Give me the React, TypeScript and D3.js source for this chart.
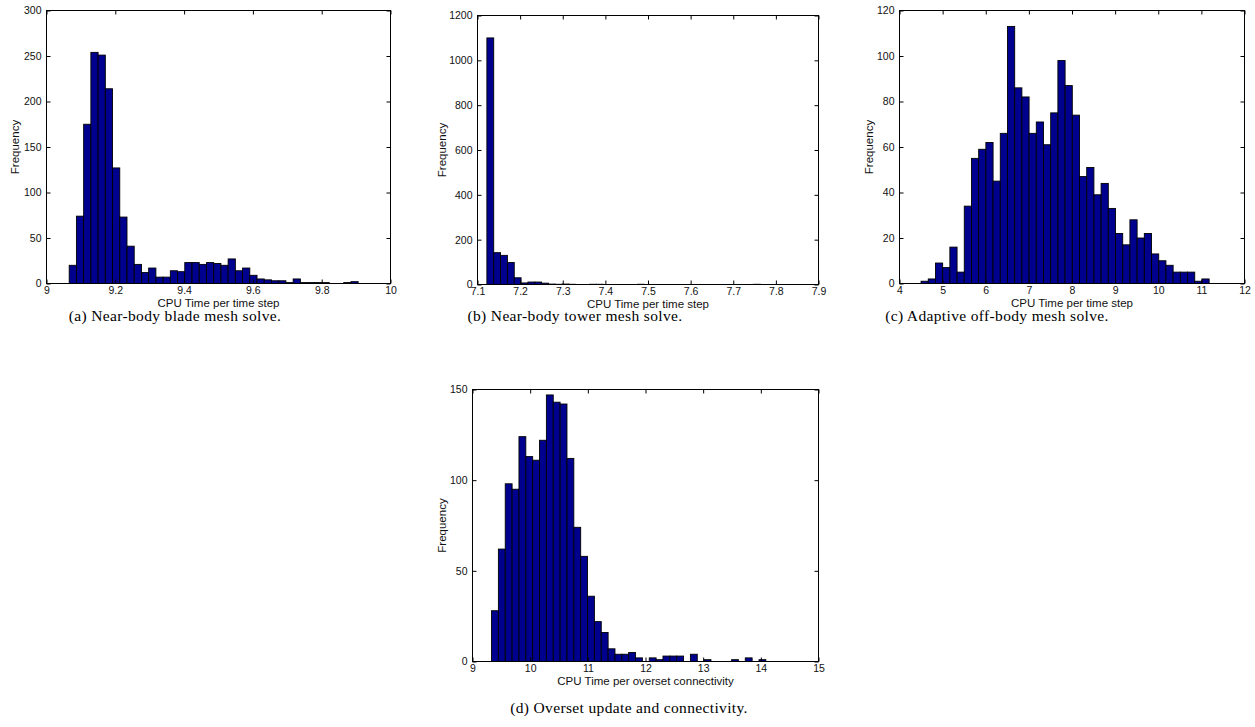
import React, { useRef, useEffect } from "react";
import * as d3 from "d3";

// bin counts (40 bins each)
const bladeCounts = [
  20, 74, 175, 254, 251, 214, 127, 73, 41, 21, 12, 17, 7, 7, 14, 13, 23, 23, 21, 23,
  22, 20, 27, 14, 17, 9, 5, 4, 3, 3, 1, 5, 1, 1, 1, 1, 0, 0, 1, 2,
];
const towerCounts = [
  1100, 142, 130, 98, 30, 7, 11, 11, 6, 2, 1, 2, 1, 0, 0, 1, 1, 0, 0, 0,
  0, 0, 1, 0, 0, 0, 0, 0, 0, 0, 0, 0, 0, 0, 0, 0, 0, 0, 0, 1,
];
const adaptiveCounts = [
  1, 2, 9, 7, 16, 5, 34, 55, 59, 62, 45, 66, 113, 86, 82, 66, 71, 61, 75, 98,
  87, 74, 47, 51, 39, 44, 33, 22, 17, 28, 20, 22, 13, 10, 8, 5, 5, 5, 1, 2,
];
const oversetCounts = [
  28, 62, 98, 95, 124, 113, 111, 122, 147, 143, 142, 112, 74, 58, 36, 22, 16, 7, 4, 4,
  5, 2, 0, 2, 1, 3, 3, 3, 0, 4, 0, 1, 0, 0, 0, 1, 0, 2, 0, 1,
];

// [min, max] of the samples, i.e. the span the bins cover
const bladeRange = [9.066, 9.906];
const towerRange = [7.122, 7.764];
const adaptiveRange = [4.5, 11.18];
const oversetRange = [9.33, 14.087];

// tick labels
const bladeXTicks = [9, 9.2, 9.4, 9.6, 9.8, 10];
const towerXTicks = [7.1, 7.2, 7.3, 7.4, 7.5, 7.6, 7.7, 7.8, 7.9];
const adaptiveXTicks = [4, 5, 6, 7, 8, 9, 10, 11, 12];
const oversetXTicks = [9, 10, 11, 12, 13, 14, 15];

const bladeYTicks = [0, 50, 100, 150, 200, 250, 300];
const towerYTicks = [0, 200, 400, 600, 800, 1000, 1200];
const adaptiveYTicks = [0, 20, 40, 60, 80, 100, 120];
const oversetYTicks = [0, 50, 100, 150];

const xTitles = [
  "CPU Time per time step",
  "CPU Time per time step",
  "CPU Time per time step",
  "CPU Time per overset connectivity",
];
const captions = [
  "(a) Near-body blade mesh solve.",
  "(b) Near-body tower mesh solve.",
  "(c) Adaptive off-body mesh solve.",
  "(d) Overset update and connectivity.",
];

const panels = [
  { counts: bladeCounts, range: bladeRange, xt: bladeXTicks, yt: bladeYTicks },
  { counts: towerCounts, range: towerRange, xt: towerXTicks, yt: towerYTicks },
  { counts: adaptiveCounts, range: adaptiveRange, xt: adaptiveXTicks, yt: adaptiveYTicks },
  { counts: oversetCounts, range: oversetRange, xt: oversetXTicks, yt: oversetYTicks },
];

// plot boxes and caption spots, in page pixels
const layout = [
  { l: 46.5, t: 10.5, r: 390.5, b: 283.5, yl: 32, cx: 175, cy: 321 },
  { l: 477.5, t: 15.5, r: 818.5, b: 284.5, yl: 36, cx: 575, cy: 321 },
  { l: 899.5, t: 10.5, r: 1244.5, b: 283.5, yl: 31, cx: 997, cy: 321 },
  { l: 472.5, t: 389.5, r: 818.5, b: 661.5, yl: 31, cx: 629, cy: 713 },
];

const SANS = "'Liberation Sans', Arial, Helvetica, sans-serif";
const SERIF = "'Liberation Serif', 'Times New Roman', serif";
const fmt = d3.format("~g");

export default function App() {
  const ref = useRef(null);

  useEffect(() => {
    const svg = d3.select(ref.current);
    svg.selectAll("*").remove();

    panels.forEach((p, i) => {
      const L = layout[i];
      const x = d3
        .scaleLinear()
        .domain([p.xt[0], p.xt[p.xt.length - 1]])
        .range([L.l, L.r]);
      const y = d3
        .scaleLinear()
        .domain([p.yt[0], p.yt[p.yt.length - 1]])
        .range([L.b, L.t]);

      const g = svg.append("g");
      const w = (p.range[1] - p.range[0]) / p.counts.length;

      // bars
      g.selectAll("rect.bar")
        .data(p.counts)
        .join("rect")
        .attr("class", "bar")
        .attr("x", (d, k) => x(p.range[0] + k * w))
        .attr("width", (d, k) => x(p.range[0] + (k + 1) * w) - x(p.range[0] + k * w))
        .attr("y", (d) => y(d))
        .attr("height", (d) => y(0) - y(d))
        .style("fill", "#00008f")
        .style("stroke", "#000")
        .style("stroke-width", 0.9);

      // axes with inward ticks, mirrored on top/right
      const styleAxis = (sel) => {
        sel.select(".domain").remove();
        sel.selectAll("line").attr("stroke", "#000");
        sel
          .selectAll("text")
          .attr("fill", "#111")
          .style("font-family", SANS)
          .style("font-size", "10.5px");
      };

      g.append("g")
        .attr("transform", `translate(0,${L.b})`)
        .call(d3.axisBottom(x).tickValues(p.xt).tickFormat(fmt).tickSizeInner(-4).tickSizeOuter(0).tickPadding(3.5))
        .call(styleAxis);
      g.append("g")
        .attr("transform", `translate(0,${L.t})`)
        .call(d3.axisTop(x).tickValues(p.xt).tickFormat(() => "").tickSizeInner(-4).tickSizeOuter(0))
        .call(styleAxis);
      g.append("g")
        .attr("transform", `translate(${L.l},0)`)
        .call(d3.axisLeft(y).tickValues(p.yt).tickFormat(fmt).tickSizeInner(-4).tickSizeOuter(0).tickPadding(5))
        .call(styleAxis);
      g.append("g")
        .attr("transform", `translate(${L.r},0)`)
        .call(d3.axisRight(y).tickValues(p.yt).tickFormat(() => "").tickSizeInner(-4).tickSizeOuter(0))
        .call(styleAxis);

      // box
      g.append("rect")
        .attr("x", L.l)
        .attr("y", L.t)
        .attr("width", L.r - L.l)
        .attr("height", L.b - L.t)
        .style("fill", "none")
        .style("stroke", "#000")
        .style("stroke-width", 1);

      g.append("text")
        .attr("x", (L.l + L.r) / 2)
        .attr("y", L.b + 23)
        .attr("text-anchor", "middle")
        .style("font-family", SANS)
        .style("font-size", "11.5px")
        .attr("fill", "#111")
        .text(xTitles[i]);

      g.append("text")
        .attr("transform", `translate(${L.l - L.yl},${(L.t + L.b) / 2}) rotate(-90)`)
        .attr("text-anchor", "middle")
        .attr("dy", "0.35em")
        .style("font-family", SANS)
        .style("font-size", "11.5px")
        .attr("fill", "#111")
        .text("Frequency");

      g.append("text")
        .attr("x", L.cx)
        .attr("y", L.cy)
        .attr("text-anchor", "middle")
        .style("font-family", SERIF)
        .style("font-size", "15.5px")
        .style("letter-spacing", "0.35px")
        .attr("fill", "#000")
        .text(captions[i]);
    });
  }, []);

  return (
    <div style={{ position: "absolute", left: 0, top: 0, background: "#fff" }}>
      <svg ref={ref} width="1255" height="727" style={{ display: "block" }}></svg>
    </div>
  );
}
